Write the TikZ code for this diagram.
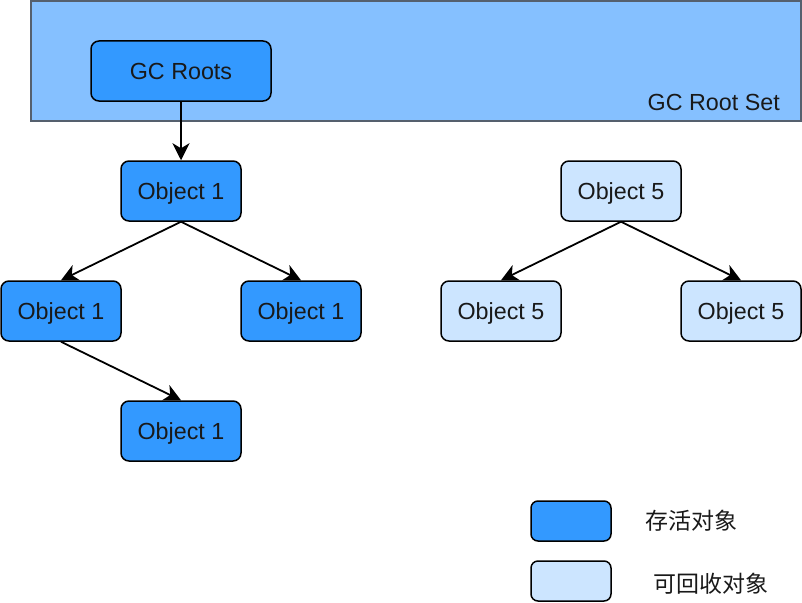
\documentclass[tikz,border=0pt]{standalone}
\usepackage{fontspec}
\setmainfont{Liberation Sans}
\newfontfamily\cjk{Noto Sans CJK SC}
\usetikzlibrary{arrows.meta}
\definecolor{setblue}{RGB}{133,192,255}
\definecolor{setedge}{RGB}{85,96,110}
\definecolor{liveblue}{RGB}{51,153,255}
\definecolor{deadblue}{RGB}{204,229,255}
\begin{document}
\begin{tikzpicture}[x=1pt,y=-1pt,
        objbox/.style={draw=black, line width=1.5pt, rounded corners=8pt,
            minimum width=120pt, minimum height=60pt,
            text height=16.5pt, text depth=0pt,
            font=\fontsize{23.3}{28}\selectfont, text=black!90},
        live/.style={objbox, fill=liveblue},
        dead/.style={objbox, fill=deadblue},
        keybox/.style={draw=black, line width=1.5pt, rounded corners=7pt,
            minimum width=80pt, minimum height=40pt},
        keytext/.style={font=\cjk\fontsize{23}{28}\selectfont, text=black!90},
        link/.style={line width=1.8pt, -{Stealth[length=17pt,width=17pt,inset=5pt]}}]
        \useasboundingbox (0,0) rectangle (802,602);

        \filldraw[fill=setblue, draw=setedge, line width=1.5pt] (31,1) rectangle (801,121);
        \node[anchor=east, inner sep=0pt, font=\fontsize{23.3}{28}\selectfont, text=black!90]
            (rootset) at (780,102) {GC Root Set};

        \node[live, minimum width=180pt] (gcroots) at (181,71) {GC Roots};

        \node[live] (objA) at (181,191) {Object 1};
        \node[live] (objB) at (61,311) {Object 1};
        \node[live] (objC) at (301,311) {Object 1};
        \node[live] (objD) at (181,431) {Object 1};

        \node[dead] (objE) at (621,191) {Object 5};
        \node[dead] (objF) at (501,311) {Object 5};
        \node[dead] (objG) at (741,311) {Object 5};

        \draw[link] (gcroots.south) -- (objA.north);
        \draw[link] (objA.south) -- (objB.north);
        \draw[link] (objA.south) -- (objC.north);
        \draw[link] (objB.south) -- (objD.north);
        \draw[link] (objE.south) -- (objF.north);
        \draw[link] (objE.south) -- (objG.north);

        %legend
        \node[keybox, fill=liveblue] (keyLive) at (571,521) {};
        \node[keybox, fill=deadblue] (keyDead) at (571,581) {};
        \node[keytext] (keyLiveText) at (691,521) {存活对象};
        \node[keytext] (keyDeadText) at (711,584) {可回收对象};
    \end{tikzpicture}
\end{document}
